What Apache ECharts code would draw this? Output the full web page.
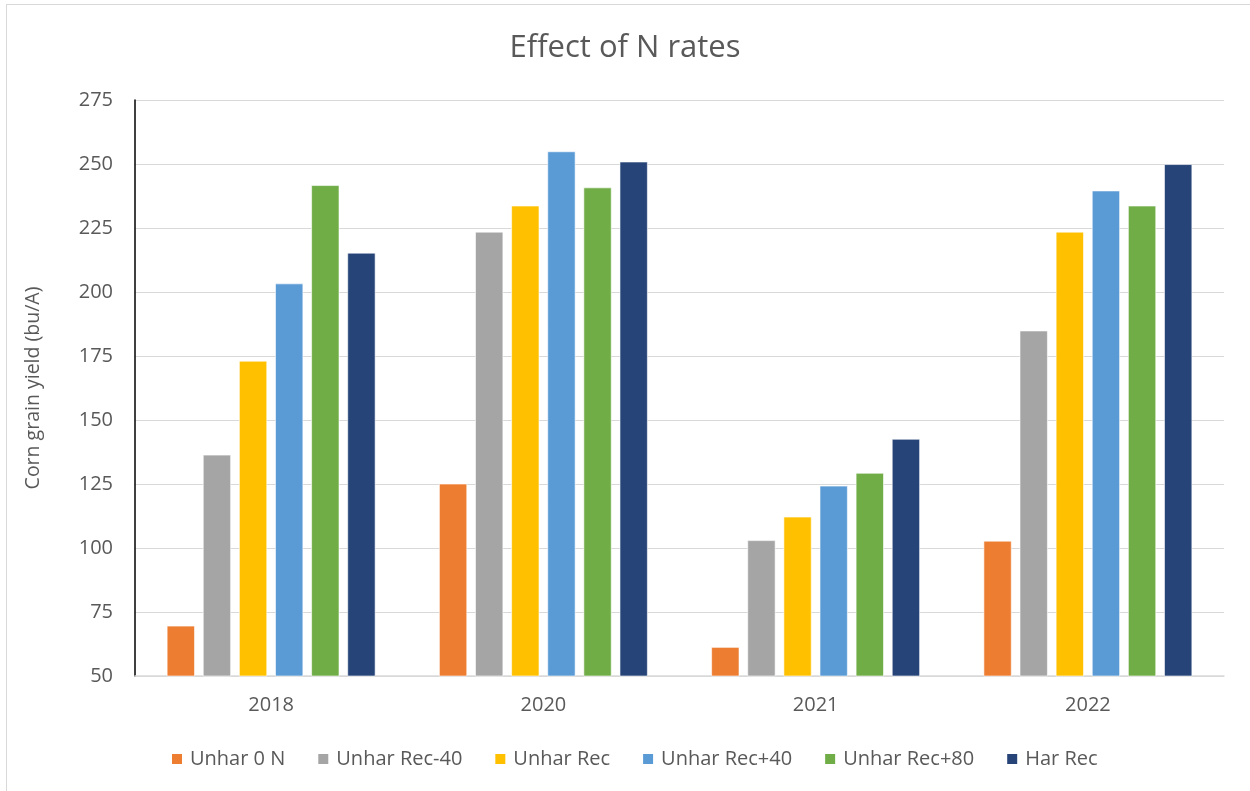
<!DOCTYPE html>
<html>
<head>
<meta charset="utf-8">
<style>
  html, body { margin: 0; padding: 0; background: #fff; overflow: hidden; }
  #frame { position: absolute; left: 6px; top: 4px; width: 1260px; height: 800px; border-left: 1.5px solid #d9d9d9; border-top: 1.5px solid #d9d9d9; box-sizing: border-box; }
  #chart { position: absolute; left: 0; top: 0; width: 1250px; height: 791px; }
</style>
<script src="https://cdn.jsdelivr.net/npm/echarts@6/dist/echarts.min.js"></script>
</head>
<body>
<div id="frame"></div>
<div id="chart"></div>
<script>
// Corn grain yield by N-rate treatment and year
const years = ['2018', '2020', '2021', '2022'];
const unhar0N     = [69.6, 125.1, 61.3, 102.8];
const unharRecM40 = [136.4, 223.5, 103.0, 184.9];
const unharRec    = [173.1, 233.7, 112.2, 223.5];
const unharRecP40 = [203.3, 254.9, 124.3, 239.6];
const unharRecP80 = [241.7, 240.8, 129.3, 233.7];
const harRec      = [215.3, 250.9, 142.6, 249.9];
const seriesNames = ['Unhar 0 N', 'Unhar Rec-40', 'Unhar Rec', 'Unhar Rec+40', 'Unhar Rec+80', 'Har Rec'];
const seriesColors = ['#ED7D31', '#A5A5A5', '#FFC000', '#5B9BD5', '#70AD47', '#264478'];
const seriesData = [unhar0N, unharRecM40, unharRec, unharRecP40, unharRecP80, harRec];

const textColor = '#595959';
const font = '"Open Sans", "Liberation Sans", sans-serif';

const chart = echarts.init(document.getElementById('chart'));
chart.setOption({
  animation: false,
  title: {
    text: 'Effect of N rates',
    left: 'center',
    top: 28,
    textStyle: { fontFamily: font, fontSize: 31, fontWeight: 'normal', color: textColor }
  },
  legend: {
    data: seriesNames,
    bottom: 17,
    left: 165,
    itemWidth: 12,
    itemHeight: 12,
    itemGap: 31,
    icon: 'rect',
    textStyle: { fontFamily: font, fontSize: 20, color: textColor, padding: [0, 0, 0, 2] }
  },
  grid: { left: 135, right: 26, top: 100, bottom: 115 },
  xAxis: {
    type: 'category',
    data: years,
    axisLine: { lineStyle: { color: '#d9d9d9', width: 1.5 } },
    axisTick: { show: false },
    axisLabel: { fontFamily: font, fontSize: 20, color: textColor, margin: 19 }
  },
  yAxis: {
    type: 'value',
    min: 50,
    max: 275,
    interval: 25,
    name: 'Corn grain yield (bu/A)',
    nameLocation: 'middle',
    nameGap: 92,
    nameTextStyle: { fontFamily: font, fontSize: 19.5, color: textColor },
    axisLine: { show: true, lineStyle: { color: '#000', width: 1.5 } },
    axisTick: { show: false },
    axisLabel: { fontFamily: font, fontSize: 20, color: textColor, margin: 22 },
    splitLine: { lineStyle: { color: '#d9d9d9', width: 1.2 } }
  },
  series: seriesData.map((d, i) => ({
    name: seriesNames[i],
    type: 'bar',
    data: d,
    barWidth: 28,
    barGap: '29%',
    itemStyle: { color: seriesColors[i], borderColor: '#ffffff', borderWidth: 0.6 }
  }))
});
</script>
</body>
</html>
